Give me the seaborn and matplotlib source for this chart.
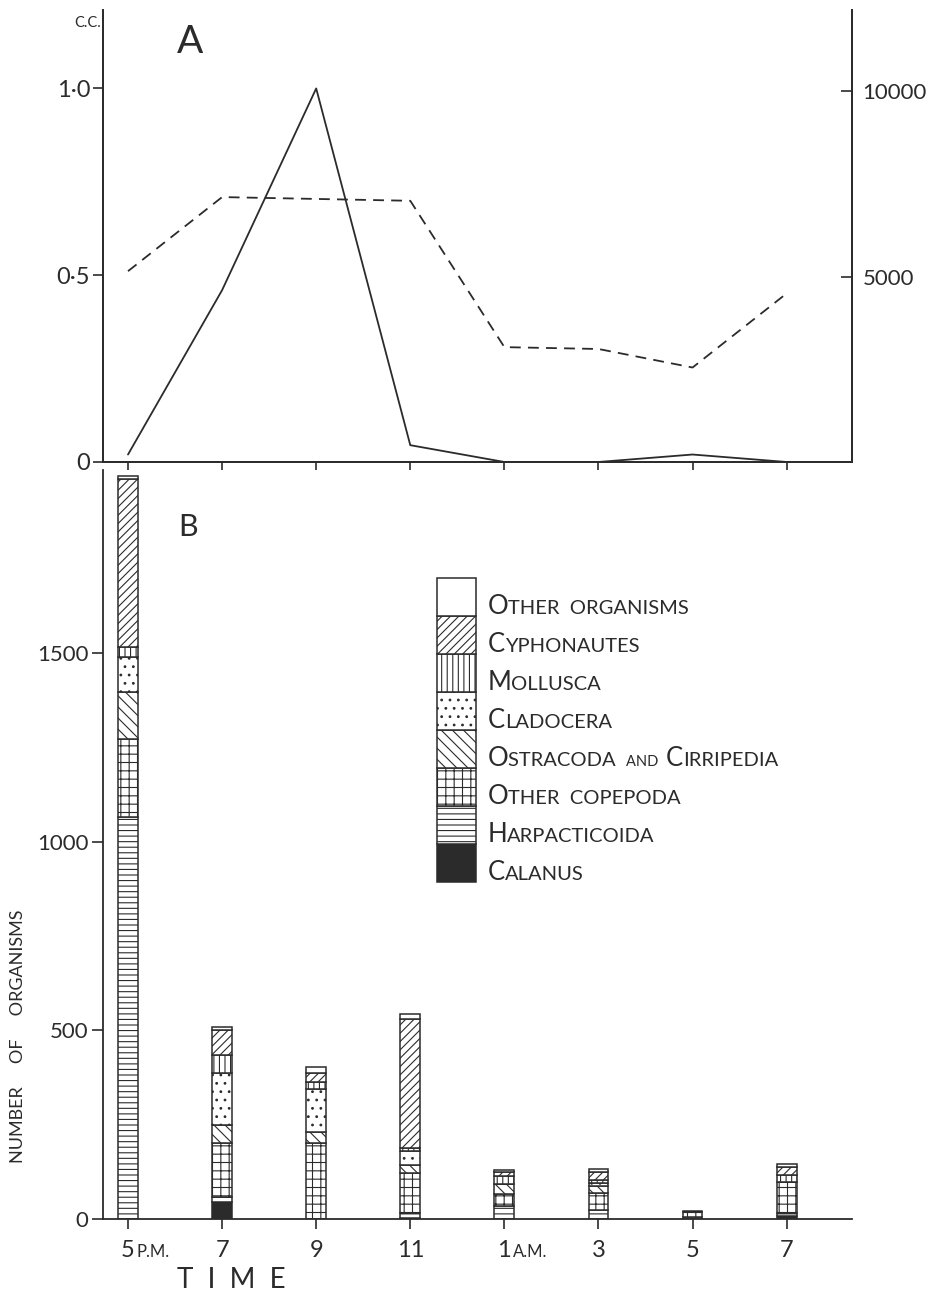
import numpy as np
import matplotlib
matplotlib.use("Agg")
import matplotlib.pyplot as plt
import seaborn as sns
from matplotlib.patches import Rectangle
from matplotlib.offsetbox import TextArea, HPacker, AnnotationBbox

# sampling times, 5 p.m. to 7 a.m.
slots = ["5 P.M.", "7 P.M.", "9 P.M.", "11 P.M.", "1 A.M.", "3 A.M.", "5 A.M.", "7 A.M."]
hour_labels = ["5", "7", "9", "11", "1", "3", "5", "7"]

# A: volume of catch in c.c. (solid) and total numbers (dashed, right scale)
volume_cc = [0.02, 0.46, 1.0, 0.045, 0.0, 0.0, 0.02, 0.0]
total_number = [5150, 7150, 7100, 7050, 3100, 3050, 2550, 4550]

# B: number of organisms per group, bottom of the stack first
calanus = [0, 45, 0, 3, 0, 0, 0, 8]
harpacticoida = [1066, 13, 0, 12, 34, 25, 6, 8]
other_copepoda = [206, 143, 201, 108, 32, 45, 12, 82]
ostracoda_cirripedia = [124, 48, 29, 21, 26, 18, 0, 0]
cladocera = [93, 138, 114, 37, 0, 8, 0, 0]
mollusca = [26, 48, 19, 8, 21, 8, 0, 18]
cyphonautes = [445, 66, 24, 341, 11, 21, 0, 21]
other_organisms = [8, 8, 16, 13, 5, 7, 4, 10]

INK = "#2b2b2b"

sns.set_style("ticks")
plt.rcParams["font.family"] = ["Lato", "DejaVu Sans"]
plt.rcParams.update({
    "axes.edgecolor": INK, "axes.linewidth": 1.3,
    "xtick.color": INK, "ytick.color": INK, "text.color": INK,
    "xtick.major.width": 1.2, "ytick.major.width": 1.2,
    "hatch.linewidth": 0.8,
})

BIG, SMALL = 18.5, 14.5
# (label parts for small caps, values, hatch, face)
layers = [
    ([("C", BIG), ("ALANUS", SMALL)], calanus, "", INK),
    ([("H", BIG), ("ARPACTICOIDA", SMALL)], harpacticoida, "---", "white"),
    ([("O", BIG), ("THER  COPEPODA", SMALL)], other_copepoda, "++", "white"),
    ([("O", BIG), ("STRACODA  ", SMALL), ("AND  ", 10.5), ("C", BIG), ("IRRIPEDIA", SMALL)],
     ostracoda_cirripedia, "\\\\\\", "white"),
    ([("C", BIG), ("LADOCERA", SMALL)], cladocera, "..", "white"),
    ([("M", BIG), ("OLLUSCA", SMALL)], mollusca, "|||", "white"),
    ([("C", BIG), ("YPHONAUTES", SMALL)], cyphonautes, "////", "white"),
    ([("O", BIG), ("THER  ORGANISMS", SMALL)], other_organisms, "", "white"),
]

fig = plt.figure(figsize=(9.5, 12.97), dpi=100)
ax_a = fig.add_axes([0.108, 0.6438, 0.7884, 0.3485])
ax_b = fig.add_axes([0.108, 0.0601, 0.7884, 0.5775])

# ---- A ----
pos = np.arange(len(slots))
sns.lineplot(x=pos, y=volume_cc, ax=ax_a, color=INK, lw=1.3)
ax_n = ax_a.twinx()
sns.lineplot(x=pos, y=total_number, ax=ax_n, color=INK, lw=1.3, linestyle=(0, (6, 4)))

ax_a.set_xlim(-0.27, 7.69)
ax_a.set_ylim(0, 1.21)
ax_n.set_ylim(0, 12200)
ax_a.set_xticks(pos)
ax_a.set_xticklabels([])
ax_a.set_yticks([0, 0.5, 1.0])
ax_a.set_yticklabels(["0", "0·5", "1·0"], fontsize=17)
ax_n.set_yticks([5000, 10000])
ax_n.set_yticklabels(["5000", "10000"], fontsize=16)
ax_a.tick_params(axis="x", direction="out", length=7)
ax_a.tick_params(axis="y", direction="out", length=7, pad=2)
ax_n.tick_params(axis="y", direction="in", length=8, pad=8)
ax_a.spines["top"].set_visible(False)
ax_n.spines["top"].set_visible(False)
for a in (ax_a, ax_n):
    a.set_xlabel("")
    a.set_ylabel("")

fig.text(0.092, 0.982, "C.C.", fontsize=10.5, ha="center", va="center")
fig.text(0.20, 0.968, "A", fontsize=28, ha="center", va="center")

# ---- B ----
bottom = np.zeros(len(slots))
for parts, vals, hatch, face in layers:
    sns.barplot(x=slots, y=vals, ax=ax_b, bottom=bottom, width=0.21,
                color=face, edgecolor=INK, linewidth=1.1, hatch=hatch,
                saturation=1, errorbar=None)
    bottom = bottom + np.array(vals)

ax_b.set_xlim(-0.27, 7.69)
ax_b.set_ylim(0, 1985)
ax_b.set_yticks([0, 500, 1000, 1500])
ax_b.set_yticklabels(["0", "500", "1000", "1500"], fontsize=16)
ax_b.set_xticks(pos)
ax_b.set_xticklabels(hour_labels, fontsize=17)
ax_b.tick_params(axis="x", direction="out", length=7, pad=8)
ax_b.tick_params(axis="y", direction="out", length=8, pad=2)
ax_b.set_xlabel("")
ax_b.set_ylabel("")
sns.despine(ax=ax_b)

for i, suffix in [(0, "P.M."), (4, "A.M.")]:
    ax_b.annotate(suffix, xy=(i, 0), xycoords=("data", "axes fraction"),
                  xytext=(6, -27.5), textcoords="offset points",
                  fontsize=12, ha="left", va="baseline")

fig.text(0.244, 0.013, "T  I  M  E", fontsize=20, ha="center", va="center")
fig.text(0.019, 0.201, "NUMBER     OF     ORGANISMS", fontsize=13,
         rotation=90, ha="center", va="center")
fig.text(0.198, 0.594, "B", fontsize=22, ha="center", va="center")

# legend: stacked swatches with small-caps labels
key_x, key_w, key_y0, key_h = 0.447, 0.052, 0.450, 0.0507
for k, (parts, vals, hatch, face) in enumerate(layers):
    y = key_y0 + k * key_h
    ax_b.add_patch(Rectangle((key_x, y), key_w, key_h, transform=ax_b.transAxes,
                             facecolor=face, edgecolor=INK, lw=1.1, hatch=hatch))
    boxes = [TextArea(t, textprops=dict(size=s, color=INK)) for t, s in parts]
    pack = HPacker(children=boxes, align="baseline", pad=0, sep=0)
    ab = AnnotationBbox(pack, (key_x + key_w + 0.015, y - 0.004), xycoords=ax_b.transAxes,
                        box_alignment=(0, 0), frameon=False, pad=0)
    ax_b.add_artist(ab)

fig.savefig("out.png", dpi=100, facecolor="white")
